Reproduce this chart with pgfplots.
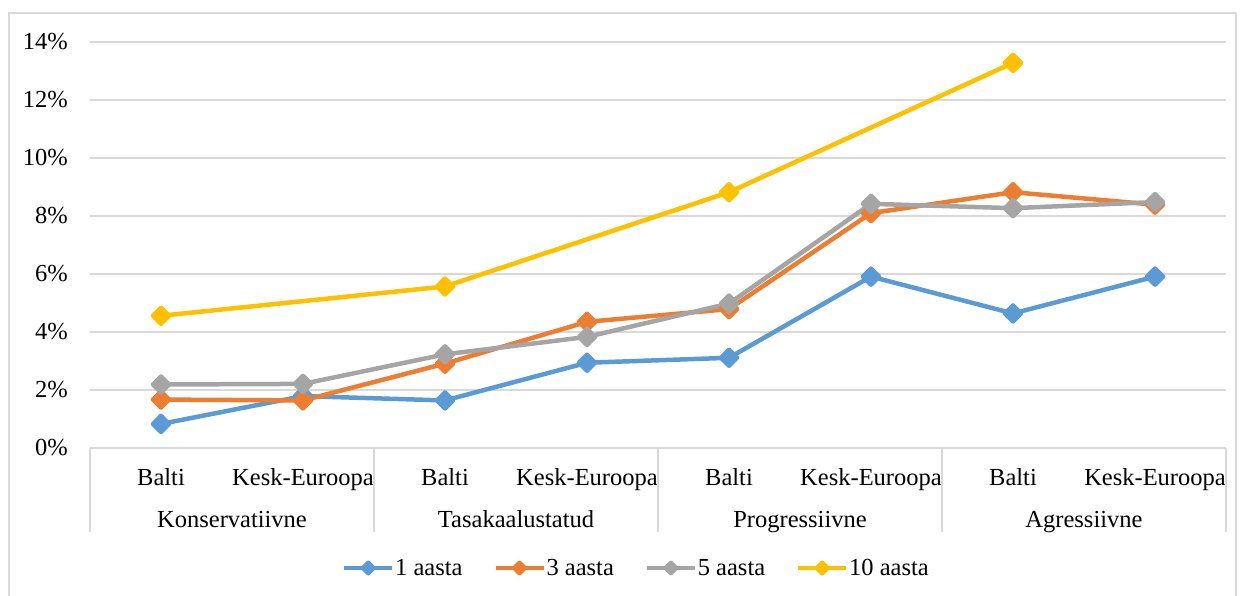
\documentclass[border=0pt]{standalone}
\usepackage{pgfplots}
\pgfplotsset{compat=1.18}
\usepackage{fontspec}
\setmainfont{Liberation Serif}

\definecolor{s1}{HTML}{5B9BD5}
\definecolor{s3}{HTML}{ED7D31}
\definecolor{s5}{HTML}{A5A5A5}
\definecolor{s10}{HTML}{FFC000}
\definecolor{gridc}{HTML}{D9D9D9}

\newcommand\lbl{\fontsize{24.5}{28}\selectfont}

\begin{document}
\begin{tikzpicture}[font=\lbl]
\path[use as bounding box] (0,0) rectangle (1246pt,596pt);
% chart area frame
\draw[gridc, line width=1.3pt] (9pt,-2pt) -- (9pt,583pt) -- (1236pt,583pt) -- (1236pt,-2pt);
\begin{axis}[
  at={(90pt,148pt)}, anchor=south west, scale only axis,
  width=1136pt, height=406pt,
  xmin=-0.5, xmax=7.5, ymin=0, ymax=14,
  xtick={0,...,7},
  xticklabels={Balti,Kesk-Euroopa,Balti,Kesk-Euroopa,Balti,Kesk-Euroopa,Balti,Kesk-Euroopa},
  ytick={0,2,...,14},
  yticklabel={\pgfmathprintnumber{\tick}\%},
  /pgf/number format/assume math mode=true,
  ymajorgrids, grid style={gridc, line width=1.3pt},
  axis line style={draw=none}, major tick length=0pt,
  tick label style={font=\lbl},
  xticklabel style={anchor=base, inner sep=0pt, yshift=-38pt},
  yticklabel style={anchor=east, inner sep=0pt, xshift=-22pt},
  clip=false,
  every axis plot/.append style={line width=4.5pt, line join=round,
    mark=diamond*, mark size=8pt, mark options={xscale=1.33, solid}},
  legend style={at={(0.5,0)}, anchor=center, yshift=-120pt, xshift=-22pt,
    draw=none, fill=none, legend columns=4,
    /tikz/every even column/.append style={column sep=30pt},
    font=\lbl,
    nodes={inner sep=1pt}},
  legend cell align=left,
  legend image code/.code={\draw[mark repeat=2, mark phase=2, #1, line width=4pt, mark size=5.5pt]
    plot coordinates {(0pt,0pt) (24pt,0pt) (48pt,0pt)};},
]
\addplot[s1] coordinates {
  (0,0.83) (1,1.79) (2,1.64) (3,2.94) (4,3.11) (5,5.91) (6,4.64) (7,5.91)};
\addlegendentry{1 aasta}
\addplot[s3] coordinates {
  (0,1.67) (1,1.64) (2,2.91) (3,4.35) (4,4.79) (5,8.10) (6,8.82) (7,8.39)};
\addlegendentry{3 aasta}
\addplot[s5] coordinates {
  (0,2.19) (1,2.21) (2,3.23) (3,3.83) (4,4.98) (5,8.42) (6,8.27) (7,8.48)};
\addlegendentry{5 aasta}
\addplot[s10] coordinates {
  (0,4.56) (2,5.57) (4,8.82) (6,13.28)};
\addlegendentry{10 aasta}

% group separators of the two-level category axis
\draw[gridc, line width=1.3pt] (axis cs:-0.5,0) -- ([yshift=-84pt]axis cs:-0.5,0);
\draw[gridc, line width=1.3pt] (axis cs:1.5,0) -- ([yshift=-84pt]axis cs:1.5,0);
\draw[gridc, line width=1.3pt] (axis cs:3.5,0) -- ([yshift=-84pt]axis cs:3.5,0);
\draw[gridc, line width=1.3pt] (axis cs:5.5,0) -- ([yshift=-84pt]axis cs:5.5,0);
\draw[gridc, line width=1.3pt] (axis cs:7.5,0) -- ([yshift=-84pt]axis cs:7.5,0);

% outer category level
\node[inner sep=0pt, anchor=base] at ([yshift=-80pt]axis cs:0.5,0) {Konservatiivne};
\node[inner sep=0pt, anchor=base] at ([yshift=-80pt]axis cs:2.5,0) {Tasakaalustatud};
\node[inner sep=0pt, anchor=base] at ([yshift=-80pt]axis cs:4.5,0) {Progressiivne};
\node[inner sep=0pt, anchor=base] at ([yshift=-80pt]axis cs:6.5,0) {Agressiivne};
\end{axis}
\end{tikzpicture}
\end{document}
